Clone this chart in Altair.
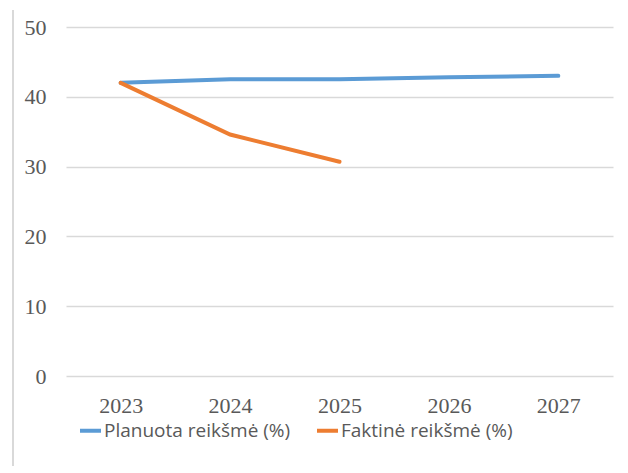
import altair as alt
import pandas as pd

years = ["2023", "2024", "2025", "2026", "2027"]
planuota = [42.0, 42.5, 42.5, 42.8, 43.0]
faktine = [42.0, 34.6, 30.7, None, None]
series_names = ["Planuota reikšmė (%)", "Faktinė reikšmė (%)"]
colors = ["#5B9BD5", "#ED7D31"]

rows = []
for name, vals in zip(series_names, [planuota, faktine]):
    for y, v in zip(years, vals):
        if v is not None:
            rows.append({"year": y, "value": v, "series": name})
df = pd.DataFrame(rows)

lines = alt.Chart(df).mark_line(strokeWidth=4, strokeCap="round").encode(
    x=alt.X("year:O", sort=years, scale=alt.Scale(padding=0.5),
            axis=alt.Axis(title=None, labelAngle=0, ticks=False, domain=False,
                          labelFont="Liberation Serif", labelFontSize=22,
                          labelColor="#595959", labelPadding=19)),
    y=alt.Y("value:Q", scale=alt.Scale(domain=[0, 50]),
            axis=alt.Axis(title=None, values=[0, 10, 20, 30, 40, 50], ticks=False,
                          domain=False, gridColor="#D9D9D9", gridWidth=1.5,
                          labelFont="Liberation Serif", labelFontSize=22,
                          labelColor="#595959", labelPadding=20)),
    color=alt.Color("series:N", sort=series_names,
                    scale=alt.Scale(domain=series_names, range=colors),
                    legend=alt.Legend(title=None, orient="none", direction="horizontal",
                                      legendX=12, legendY=391, symbolType="stroke",
                                      symbolStrokeWidth=4, symbolSize=441,
                                      labelFont="Open Sans", labelFontSize=19,
                                      labelColor="#595959", labelOffset=1,
                                      labelLimit=400, columnPadding=18, padding=0)),
)

border_data = alt.Data(values=[{"a": 1}])
left_border = alt.Chart(border_data).mark_rule(color="#D9D9D9", strokeWidth=2).encode(
    x=alt.value(-53), y=alt.value(-17), y2=alt.value(450))

chart = alt.layer(lines, left_border).properties(
    width=547, height=349,
    autosize=alt.AutoSizeParams(type="none"),
    padding={"left": 58, "top": 19, "right": 7, "bottom": 90},
).configure_view(stroke=None)

chart.save("out.html", embed_options={"renderer": "svg", "actions": False})
